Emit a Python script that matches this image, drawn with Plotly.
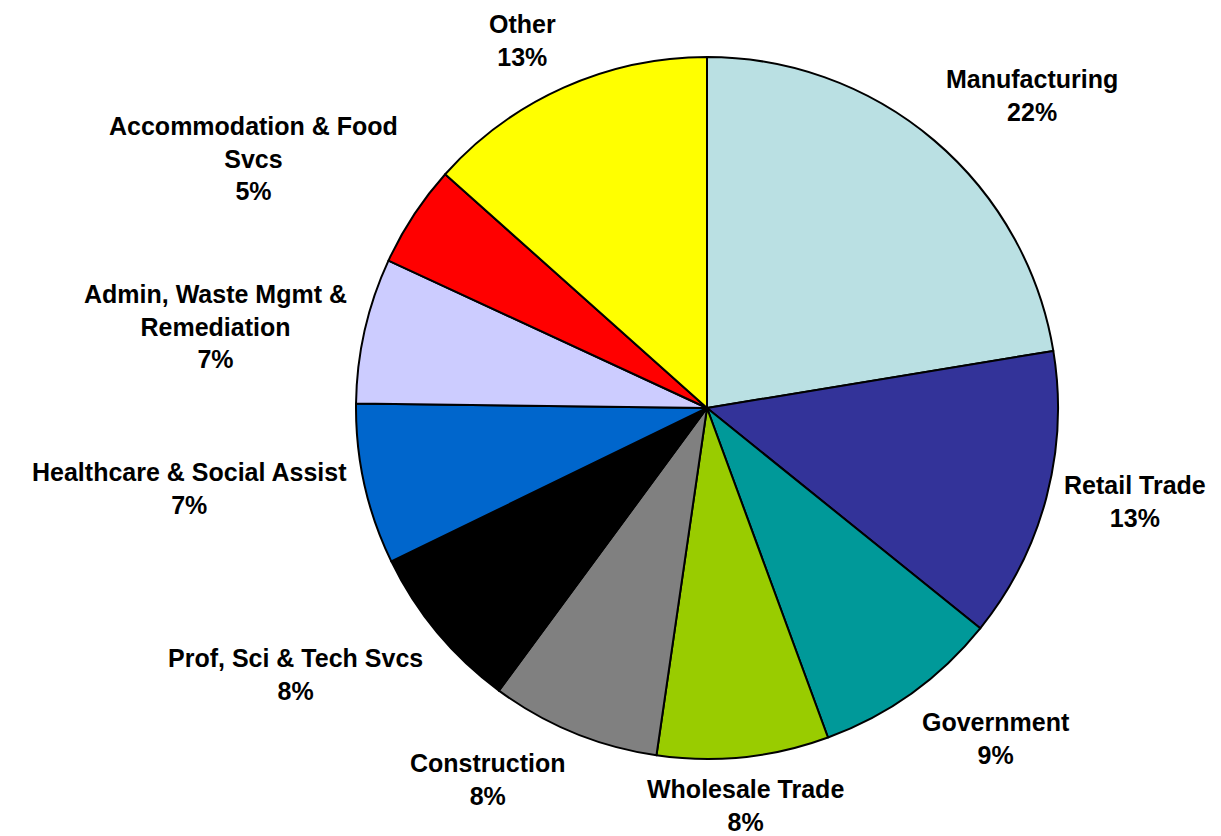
import numpy as np
import plotly.graph_objects as go

# Sector shares (percent of total), clockwise from 12 o'clock
sectores = [
    "Manufacturing",
    "Retail Trade",
    "Government",
    "Wholesale Trade",
    "Construction",
    "Prof, Sci & Tech Svcs",
    "Healthcare & Social Assist",
    "Admin, Waste Mgmt & Remediation",
    "Accommodation & Food Svcs",
    "Other",
]
valores = [22.4, 13.4, 8.6, 7.9, 7.8, 7.7, 7.4, 6.7, 4.7, 13.4]
etiquetas = [
    "Manufacturing",
    "Retail Trade",
    "Government",
    "Wholesale Trade",
    "Construction",
    "Prof, Sci & Tech Svcs",
    "Healthcare & Social Assist",
    "Admin, Waste Mgmt &<br>Remediation",
    "Accommodation & Food<br>Svcs",
    "Other",
]
colores = [
    "#BAE0E3", "#333399", "#009999", "#99CC00", "#808080",
    "#000000", "#0066CC", "#CCCCFF", "#FF0000", "#FFFF00",
]

# Layout geometry (pixels)
W, H = 1221, 836
cx, cy, radio = 707, 408, 351
gap = 17

fig = go.Figure(go.Pie(
    labels=sectores,
    values=valores,
    sort=False,
    direction="clockwise",
    rotation=0,
    marker=dict(colors=colores, line=dict(color="#000000", width=2)),
    textinfo="none",
    hoverinfo="label+percent",
    showlegend=False,
    domain=dict(
        x=[(cx - radio) / W, (cx + radio) / W],
        y=[1 - (cy + radio) / H, 1 - (cy - radio) / H],
    ),
))

# Outside labels, anchored at each slice's mid angle
total = float(np.sum(valores))
acumulado = np.cumsum(valores) - np.array(valores) / 2
for etq, v, mid in zip(etiquetas, valores, acumulado):
    theta = np.radians(360 * mid / total)
    s, c = np.sin(theta), np.cos(theta)
    px = cx + (radio + gap) * s
    py = cy - (radio + gap) * c
    xa = "left" if s > 0.3 else ("right" if s < -0.3 else "center")
    ya = "bottom" if c > 0.3 else ("top" if c < -0.3 else "middle")
    pct = int(round(100 * v / total))
    fig.add_annotation(
        x=px / W, y=1 - py / H, xref="paper", yref="paper",
        text=f"<b>{etq}<br>{pct}%</b>",
        showarrow=False, xanchor=xa, yanchor=ya, align="center",
        borderpad=0,
        font=dict(family="Arial, Liberation Sans, sans-serif", size=25, color="#000000"),
    )

fig.update_layout(
    width=W, height=H,
    margin=dict(l=0, r=0, t=0, b=0),
    paper_bgcolor="#FFFFFF",
    plot_bgcolor="#FFFFFF",
)

# quitar el margen por defecto del body para que la figura ocupe toda la ventana
fig.write_html(
    "out.html",
    config={"displayModeBar": False},
    post_script="document.body.style.margin='0';",
)
